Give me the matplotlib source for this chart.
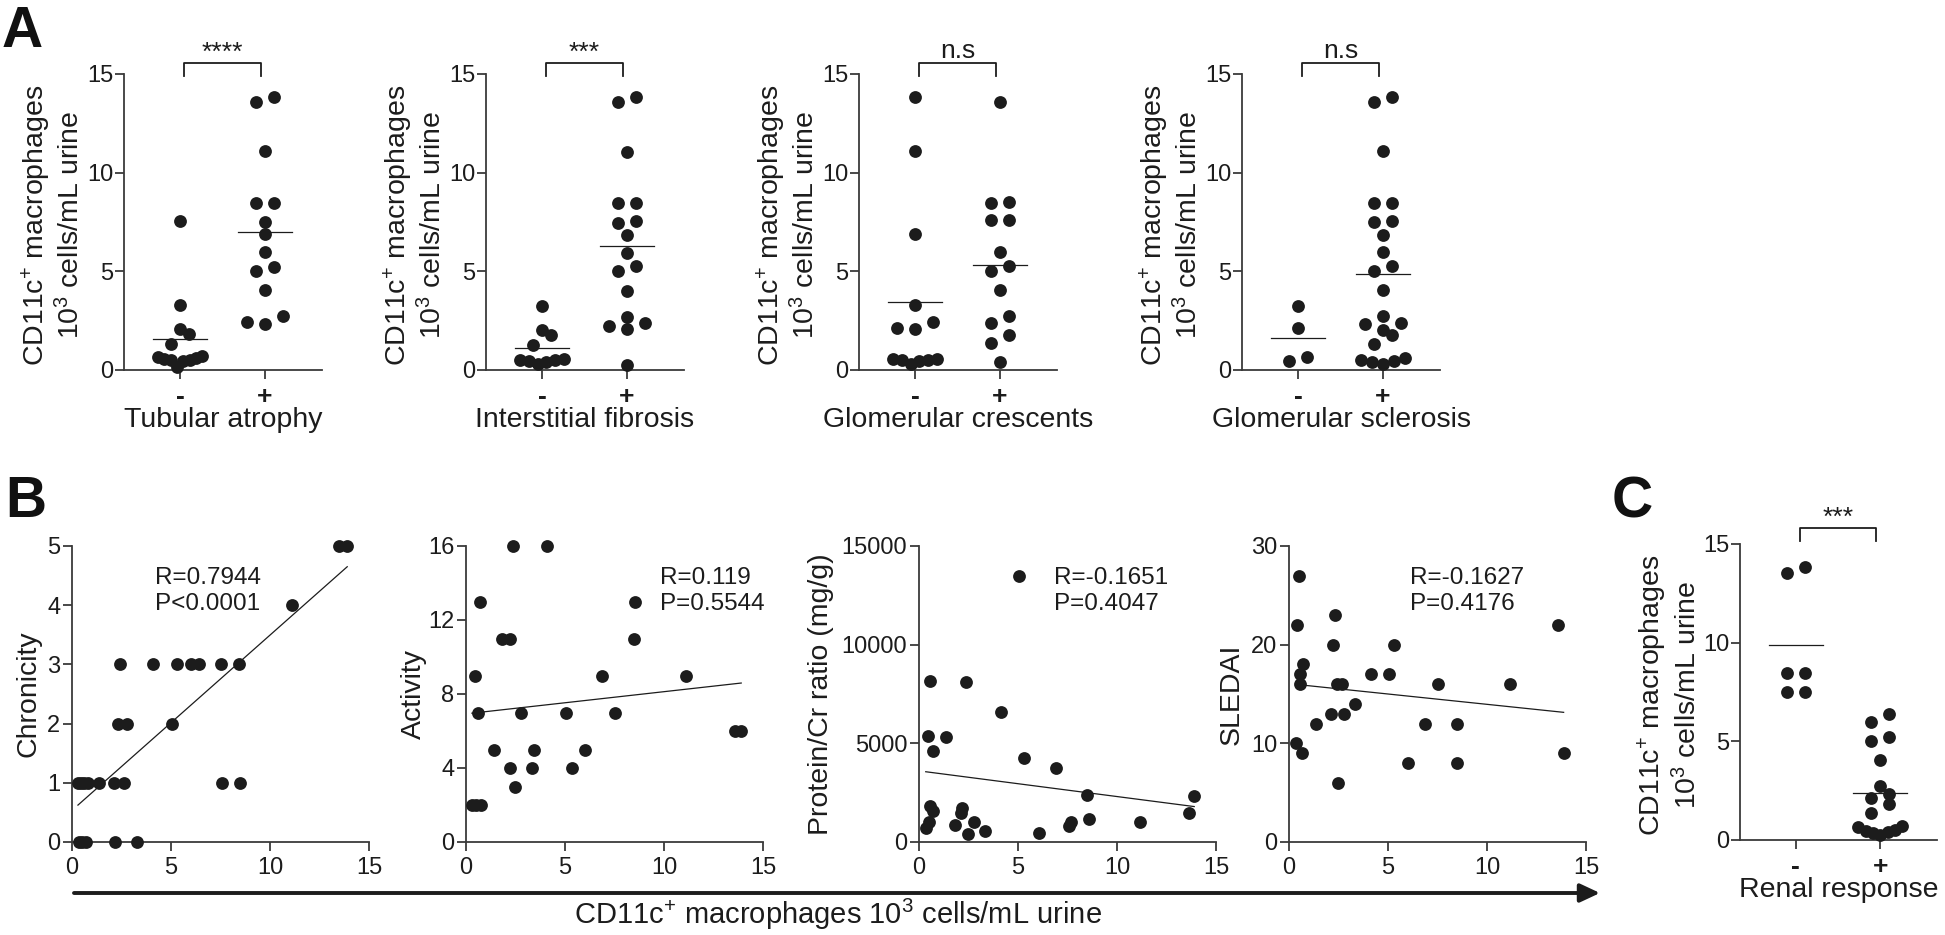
import numpy as np
import matplotlib
matplotlib.use('Agg')
import matplotlib.pyplot as plt
from matplotlib.patches import FancyArrowPatch

plt.rcParams['font.family'] = ['Liberation Sans', 'DejaVu Sans']
plt.rcParams['mathtext.fontset'] = 'custom'
plt.rcParams['mathtext.rm'] = 'Liberation Sans'
plt.rcParams['mathtext.it'] = 'Liberation Sans:italic'
plt.rcParams['mathtext.bf'] = 'Liberation Sans:bold'
plt.rcParams['mathtext.default'] = 'regular'

# ---- panel A / C : CD11c+ macrophages (10^3 cells/mL urine) by group ----
tubular_neg = [7.55, 3.3, 2.1, 1.8, 1.3, 0.7, 0.65, 0.6, 0.55, 0.5, 0.5, 0.45, 0.15]
tubular_pos = [13.85, 13.58, 11.1, 8.48, 8.48, 7.52, 6.88, 6.0, 5.24, 5.02, 4.05, 2.75, 2.42, 2.31]
fibrosis_neg = [3.25, 2.05, 1.75, 1.25, 0.55, 0.5, 0.5, 0.45, 0.4, 0.3]
fibrosis_pos = [13.83, 13.56, 11.07, 8.47, 8.47, 7.54, 7.47, 6.83, 5.95, 5.25, 5.0, 4.02, 2.69,
                2.39, 2.25, 2.08, 0.25]
crescent_neg = [13.82, 11.11, 6.87, 3.28, 2.44, 2.12, 2.09, 0.55, 0.55, 0.5, 0.5, 0.45, 0.3]
crescent_pos = [13.57, 8.5, 8.47, 7.58, 7.58, 5.99, 5.27, 5.02, 4.07, 2.74, 2.36, 1.77, 1.35, 0.42]
sclerosis_neg = [3.26, 2.13, 0.64, 0.47]
sclerosis_pos = [13.82, 13.56, 11.08, 8.48, 8.48, 7.57, 7.52, 6.84, 5.96, 5.25, 5.0, 4.05, 2.72,
                 2.4, 2.31, 2.04, 1.77, 1.3, 0.6, 0.5, 0.45, 0.4, 0.3]
renal_neg = [13.82, 13.55, 8.48, 8.48, 7.52, 7.52]
renal_pos = [6.37, 5.96, 5.24, 5.02, 4.05, 2.74, 2.33, 2.11, 1.81, 1.35, 0.7, 0.65, 0.5, 0.45,
             0.4, 0.35, 0.25]

group_labels = ['-', '+']
a_titles = ['Tubular atrophy', 'Interstitial fibrosis', 'Glomerular crescents', 'Glomerular sclerosis']
a_sig = ['****', '***', 'n.s', 'n.s']
c_sig = '***'

# ---- panel B : correlations ----
chron_x = [13.5, 13.9, 11.1, 2.4, 4.1, 5.3, 6.0, 6.4, 7.5, 8.45, 2.3, 2.8, 5.05, 0.3, 0.45, 0.6,
           0.8, 1.35, 2.1, 2.65, 7.6, 8.5, 0.35, 0.5, 0.7, 2.15, 3.3]
chron_y = [5, 5, 4, 3, 3, 3, 3, 3, 3, 3, 2, 2, 2, 1, 1, 1, 1, 1, 1, 1, 1, 1, 0, 0, 0, 0, 0]

act_x = [2.38, 4.1, 0.72, 8.56, 1.82, 2.2, 8.48, 0.47, 6.88, 11.12, 0.59, 2.8, 5.06, 7.55, 13.6,
         13.9, 1.4, 3.42, 6.0, 2.2, 3.34, 5.33, 2.48, 0.3, 0.5, 0.75]
act_y = [16, 16, 13, 13, 11, 11, 11, 9, 9, 9, 7, 7, 7, 7, 6, 6, 5, 5, 5, 4, 4, 4, 3, 2, 2, 2]

pcr_x = [5.07, 0.56, 2.36, 4.12, 0.44, 1.34, 0.71, 5.32, 6.94, 8.5, 13.9, 0.55, 0.7, 2.19, 2.13,
         0.49, 0.34, 1.82, 2.79, 2.47, 3.33, 6.04, 7.69, 7.57, 8.57, 11.17, 13.64]
pcr_y = [13500, 8170, 8110, 6600, 5380, 5340, 4590, 4280, 3750, 2390, 2340, 1830, 1590, 1740, 1450,
         1020, 730, 850, 1020, 430, 560, 460, 1020, 800, 1160, 1020, 1490]

sle_x = [0.49, 2.31, 0.42, 13.6, 2.2, 5.3, 0.71, 0.54, 4.12, 5.06, 0.57, 2.4, 2.7, 7.54, 11.14,
         3.31, 2.14, 2.8, 1.35, 6.88, 8.5, 0.34, 0.67, 13.87, 6.02, 8.47, 2.45]
sle_y = [27, 23, 22, 22, 20, 20, 18, 17, 17, 17, 16, 16, 16, 16, 16, 14, 13, 13, 12, 12, 12, 10, 9,
         9, 8, 8, 6]

b_ylabels = ['Chronicity', 'Activity', 'Protein/Cr ratio (mg/g)', 'SLEDAI']
b_stats = ['R=0.7944\nP<0.0001', 'R=0.119\nP=0.5544', 'R=-0.1651\nP=0.4047', 'R=-0.1627\nP=0.4176']
b_yticks = [[0, 1, 2, 3, 4, 5], [0, 4, 8, 12, 16], [0, 5000, 10000, 15000], [0, 10, 20, 30]]

macro_label = 'CD11c$^{+}$ macrophages\n10$^{3}$ cells/mL urine'
arrow_label = 'CD11c$^{+}$ macrophages 10$^{3}$ cells/mL urine'

W, H = 1945, 935
INK = '#1c1c1c'
AXC = '#3a3a3a'
DOT = 85

fig = plt.figure(figsize=(W / 100, H / 100), dpi=100)


def add_axes(left, top, width, height):
    return fig.add_axes([left / W, 1 - (top + height) / H, width / W, height / H])


def style(ax):
    for s in ['top', 'right']:
        ax.spines[s].set_visible(False)
    for s in ['left', 'bottom']:
        ax.spines[s].set_linewidth(1.3)
        ax.spines[s].set_color(AXC)
    ax.tick_params(direction='out', length=6.5, width=1.3, color=AXC, labelsize=17,
                   labelcolor=INK)


def swarm_offsets(values, ppu_y, ppu_x, row_h=12.0, step=18.0, maxw=44.0):
    # rows of nearby values spread sideways, lowest of a row in the middle (pixels)
    vals = np.asarray(values, float)
    offs = np.zeros(len(vals))
    rows = []
    for i in np.argsort(vals, kind='stable'):
        if rows and (vals[i] - vals[rows[-1][0]]) * ppu_y < row_h:
            rows[-1].append(i)
        else:
            rows.append([i])
    for row in rows:
        n = len(row)
        if n == 1:
            continue
        s = min(step, maxw / (n - 1))
        slots = sorted(np.arange(n) - (n - 1) / 2, key=lambda c: (abs(c), c))
        for i, c in zip(row, slots):
            offs[i] = c * s / ppu_x
    return offs


def dot_panel(ax, groups, xlabel, sig, bracket_y, label_y):
    style(ax)
    ax.set_xlim(-0.66, 1.67)
    ax.set_ylim(0, 15)
    pos = ax.get_position()
    ppu_y = pos.height * H / 15
    ppu_x = pos.width * W / 2.33
    for i, vals in enumerate(groups):
        offs = swarm_offsets(vals, ppu_y, ppu_x)
        ax.scatter(i + offs, vals, s=DOT, color=INK, linewidths=0, zorder=3, clip_on=False)
        m = np.mean(vals)
        ax.plot([i - 0.32, i + 0.32], [m, m], color=INK, lw=0.9, zorder=4)
    ax.set_yticks([0, 5, 10, 15])
    ax.set_xticks([0, 1])
    ax.set_xticklabels(group_labels, fontweight='bold', fontsize=19)
    ax.tick_params(axis='x', pad=4)
    ax.tick_params(axis='y', pad=1)
    ax.set_xlabel(xlabel, fontsize=20.5, color=INK)
    ax.xaxis.set_label_coords(0.5, label_y)
    ax.text(-0.36, 0.49, macro_label, transform=ax.transAxes, rotation=90, ha='center',
            va='center', fontsize=20.5, color=INK, linespacing=1.15, multialignment='center')
    lo, hi = bracket_y
    ax.plot([0.05, 0.05, 0.95, 0.95], [lo, hi, hi, lo], color=INK, lw=1.3, clip_on=False)
    if sig.startswith('*'):
        ax.text(0.5, hi + 0.5, sig, ha='center', va='center', fontsize=19, color=INK)
    else:
        ax.text(0.5, hi + 0.27, sig, ha='center', va='baseline', fontsize=19, color=INK)


# panel A
a_groups = [(tubular_neg, tubular_pos), (fibrosis_neg, fibrosis_pos),
            (crescent_neg, crescent_pos), (sclerosis_neg, sclerosis_pos)]
for left, grp, title, sig in zip([124, 486, 859, 1242], a_groups, a_titles, a_sig):
    ax = add_axes(left, 74, 198, 296)
    dot_panel(ax, grp, title, sig, (14.9, 15.55), -0.125)

# panel C
ax = add_axes(1740, 544, 197, 296)
dot_panel(ax, (renal_neg, renal_pos), 'Renal response', c_sig, (15.15, 15.8), -0.125)

# panel B
b_data = [(chron_x, chron_y), (act_x, act_y), (pcr_x, pcr_y), (sle_x, sle_y)]
b_lefts = [72, 466, 919, 1289]
b_label_x = [-0.148, -0.175, -0.33, -0.192]
b_text_x = [0.28, 0.652, 0.456, 0.407]
for k in range(4):
    x = np.array(b_data[k][0], float)
    y = np.array(b_data[k][1], float)
    ax = add_axes(b_lefts[k], 546, 297, 296)
    style(ax)
    ax.scatter(x, y, s=DOT, color=INK, linewidths=0, zorder=3, clip_on=False)
    slope, icpt = np.polyfit(x, y, 1)
    xl = np.array([x.min(), x.max()])
    ax.plot(xl, slope * xl + icpt, color=INK, lw=0.9)
    ax.set_xlim(0, 15)
    ax.set_xticks([0, 5, 10, 15])
    ax.set_yticks(b_yticks[k])
    ax.set_ylim(0, b_yticks[k][-1])
    ax.tick_params(axis='x', pad=4)
    ax.tick_params(axis='y', pad=2)
    ax.text(b_label_x[k], 0.5, b_ylabels[k], transform=ax.transAxes, rotation=90, ha='center',
            va='center', fontsize=20.5, color=INK)
    ax.text(b_text_x[k], 0.928, b_stats[k], transform=ax.transAxes, ha='left', va='top',
            fontsize=17.5, color=INK, linespacing=1.2)

arrow = FancyArrowPatch((74 / W, 1 - 893 / H), (1600 / W, 1 - 893 / H),
                        transform=fig.transFigure,
                        arrowstyle='-|>,head_length=0.6,head_width=0.28',
                        mutation_scale=20, lw=2.8, color=INK, shrinkA=0, shrinkB=0)
fig.add_artist(arrow)
fig.text(838 / W, 1 - 924 / H, arrow_label, ha='center', va='baseline', fontsize=21, color=INK)

# panel letters
for letter, (lx, ly) in zip('ABC', [(2, 47), (5, 517), (1612, 517)]):
    fig.text(lx / W, 1 - ly / H, letter, fontsize=41, fontweight='bold', color='#111111',
             ha='left', va='baseline')

fig.savefig('out.png', dpi=100, facecolor='white')
